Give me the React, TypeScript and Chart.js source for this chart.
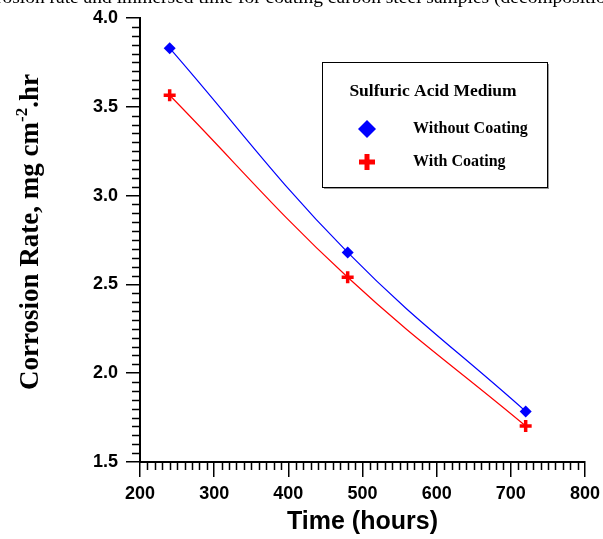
import React, { useEffect, useRef } from "react";
import { Chart, registerables } from "chart.js";

Chart.register(...registerables);

const timeHours = [240, 480, 720];
const withoutCoating = [3.83, 2.68, 1.785];
const withCoating = [3.565, 2.54, 1.703];
const xTickValues = [200, 300, 400, 500, 600, 700, 800];
const yTickValues = [1.5, 2.0, 2.5, 3.0, 3.5, 4.0];
const seriesNames = ["Without Coating", "With Coating"];
const legendTitle = "Sulfuric Acid Medium";
const xTitle = "Time (hours)";
const yTitleMain = "Corrosion Rate, mg cm";
const yTitleSup = "-2";
const yTitleEnd = ".hr";
const captionText =
  "corrosion rate and immersed time for coating carbon steel samples (decomposition of the coating)";

const BLUE = "#0000ff";
const RED = "#ff0000";

const drawDiamond = (ctx: CanvasRenderingContext2D, x: number, y: number, r: number) => {
  ctx.beginPath();
  ctx.moveTo(x, y - r);
  ctx.lineTo(x + r, y);
  ctx.lineTo(x, y + r);
  ctx.lineTo(x - r, y);
  ctx.closePath();
  ctx.fillStyle = BLUE;
  ctx.fill();
};

const drawPlus = (ctx: CanvasRenderingContext2D, x: number, y: number, r: number) => {
  ctx.beginPath();
  ctx.moveTo(x - r, y);
  ctx.lineTo(x + r, y);
  ctx.moveTo(x, y - r);
  ctx.lineTo(x, y + r);
  ctx.strokeStyle = RED;
  ctx.lineWidth = 5;
  ctx.stroke();
};

const decorPlugin = {
  id: "decor",
  afterDraw(chart: any) {
    const { ctx, chartArea, scales } = chart;
    const xs = scales.x;
    const ys = scales.y;
    ctx.save();
    // minor ticks
    ctx.strokeStyle = "#000";
    ctx.lineWidth = 1.5;
    ctx.beginPath();
    for (let v = 200; v <= 800; v += 10) {
      if (v % 100 === 0) continue;
      const px = Math.round(xs.getPixelForValue(v)) + 0.5;
      ctx.moveTo(px, chartArea.bottom);
      ctx.lineTo(px, chartArea.bottom + 8);
    }
    for (let i = 0; i <= 50; i++) {
      if (i % 10 === 0) continue;
      const v = 1.5 + i * 0.05;
      const py = Math.round(ys.getPixelForValue(v)) + 0.5;
      ctx.moveTo(chartArea.left - 8, py);
      ctx.lineTo(chartArea.left, py);
    }
    ctx.stroke();

    // y title
    const bigFont = "bold 27px 'Liberation Serif', 'Times New Roman', serif";
    const supFont = "bold 17px 'Liberation Serif', 'Times New Roman', serif";
    ctx.font = bigFont;
    const w1 = ctx.measureText(yTitleMain).width;
    const w3 = ctx.measureText(yTitleEnd).width;
    ctx.font = supFont;
    const w2 = ctx.measureText(yTitleSup).width;
    const total = w1 + w2 + w3;
    const cy = (chartArea.top + chartArea.bottom) / 2 - 8;
    ctx.translate(38, cy);
    ctx.rotate(-Math.PI / 2);
    ctx.fillStyle = "#000";
    ctx.textBaseline = "alphabetic";
    ctx.textAlign = "left";
    let sx = -total / 2;
    ctx.font = bigFont;
    ctx.fillText(yTitleMain, sx, 0);
    sx += w1;
    ctx.font = supFont;
    ctx.fillText(yTitleSup, sx, -11);
    sx += w2;
    ctx.font = bigFont;
    ctx.fillText(yTitleEnd, sx, 0);
    ctx.restore();

    // x title
    ctx.save();
    ctx.font = "bold 25px 'Liberation Sans', Arial, sans-serif";
    ctx.fillStyle = "#000";
    ctx.textAlign = "center";
    ctx.textBaseline = "alphabetic";
    ctx.fillText(xTitle, (chartArea.left + chartArea.right) / 2, 529);
    ctx.restore();

    // legend box
    ctx.save();
    const bx = chartArea.left + 182;
    const by = chartArea.top + 44;
    const bw = 225;
    const bh = 125;
    ctx.fillStyle = "#9a9a9a";
    ctx.fillRect(bx + 2, by + 2, bw, bh);
    ctx.fillStyle = "#fff";
    ctx.fillRect(bx, by, bw, bh);
    ctx.strokeStyle = "#000";
    ctx.lineWidth = 1;
    ctx.strokeRect(bx + 0.5, by + 0.5, bw, bh);
    ctx.fillStyle = "#000";
    ctx.textBaseline = "middle";
    ctx.textAlign = "center";
    ctx.font = "bold 17.5px 'Liberation Serif', 'Times New Roman', serif";
    ctx.fillText(legendTitle, bx + 111, by + 29);
    ctx.textAlign = "left";
    ctx.font = "bold 16px 'Liberation Serif', 'Times New Roman', serif";
    drawDiamond(ctx, bx + 45, by + 67, 9);
    ctx.fillStyle = "#000";
    ctx.fillText(seriesNames[0], bx + 91, by + 67);
    drawPlus(ctx, bx + 45, by + 100, 8);
    ctx.fillStyle = "#000";
    ctx.fillText(seriesNames[1], bx + 91, by + 100);
    ctx.restore();
  },
};

export default function App() {
  const canvasRef = useRef<HTMLCanvasElement | null>(null);

  useEffect(() => {
    const canvas = canvasRef.current;
    if (!canvas) return;
    const chart = new Chart(canvas, {
      type: "line",
      data: {
        datasets: [
          {
            label: seriesNames[0],
            data: timeHours.map((x, i) => ({ x, y: withoutCoating[i] })),
            borderColor: BLUE,
            backgroundColor: BLUE,
            borderWidth: 1.2,
            pointStyle: "rectRot",
            pointRadius: 6,
            pointBorderWidth: 0,
            pointBackgroundColor: BLUE,
            tension: 0.4,
          },
          {
            label: seriesNames[1],
            data: timeHours.map((x, i) => ({ x, y: withCoating[i] })),
            borderColor: RED,
            backgroundColor: RED,
            borderWidth: 1.2,
            pointStyle: "cross",
            pointRadius: 6,
            pointBorderWidth: 3.5,
            pointBorderColor: RED,
            tension: 0.4,
          },
        ],
      },
      options: {
        animation: false,
        responsive: false,
        maintainAspectRatio: false,
        layout: { padding: { top: 18, right: 18, left: 0, bottom: 0 } },
        plugins: {
          legend: { display: false },
          tooltip: { enabled: false },
          title: { display: false },
        },
        scales: {
          x: {
            type: "linear",
            min: 200,
            max: 800,
            afterBuildTicks: (scale: any) => {
              scale.ticks = xTickValues.map((value) => ({ value }));
            },
            afterFit: (scale: any) => {
              scale.height = 77;
              scale.paddingRight = 0;
              scale.paddingLeft = 0;
            },
            ticks: {
              color: "#000",
              font: { family: "'Liberation Sans', Arial, sans-serif", size: 18, weight: "bold" },
              padding: 6,
              maxRotation: 0,
              callback: (v: any) => String(v),
            },
            grid: {
              drawOnChartArea: false,
              drawTicks: true,
              tickLength: 15,
              color: "#000",
              lineWidth: 1.5,
            },
            border: { display: true, color: "#000", width: 2 },
          },
          y: {
            type: "linear",
            min: 1.5,
            max: 4.0,
            afterBuildTicks: (scale: any) => {
              scale.ticks = yTickValues.map((value) => ({ value }));
            },
            afterFit: (scale: any) => {
              scale.width = 140;
              scale.paddingTop = 0;
              scale.paddingBottom = 0;
            },
            ticks: {
              color: "#000",
              font: { family: "'Liberation Sans', Arial, sans-serif", size: 18, weight: "bold" },
              padding: 8,
              callback: (v: any) => Number(v).toFixed(1),
            },
            grid: {
              drawOnChartArea: false,
              drawTicks: true,
              tickLength: 14,
              color: "#000",
              lineWidth: 1.5,
            },
            border: { display: true, color: "#000", width: 2 },
          },
        },
      },
      plugins: [decorPlugin],
    } as any);
    return () => chart.destroy();
  }, []);

  return (
    <div
      style={{
        position: "fixed",
        left: 0,
        top: 0,
        width: 603,
        height: 539,
        overflow: "hidden",
        background: "#fff",
      }}
    >
      <div
        style={{
          position: "absolute",
          top: -14,
          left: -29,
          whiteSpace: "nowrap",
          fontFamily: "'Liberation Serif', 'Times New Roman', serif",
          fontSize: 19.5,
          color: "#000",
          lineHeight: "22px",
        }}
      >
        {captionText}
      </div>
      <canvas ref={canvasRef} width={603} height={539} style={{ display: "block" }} />
    </div>
  );
}
